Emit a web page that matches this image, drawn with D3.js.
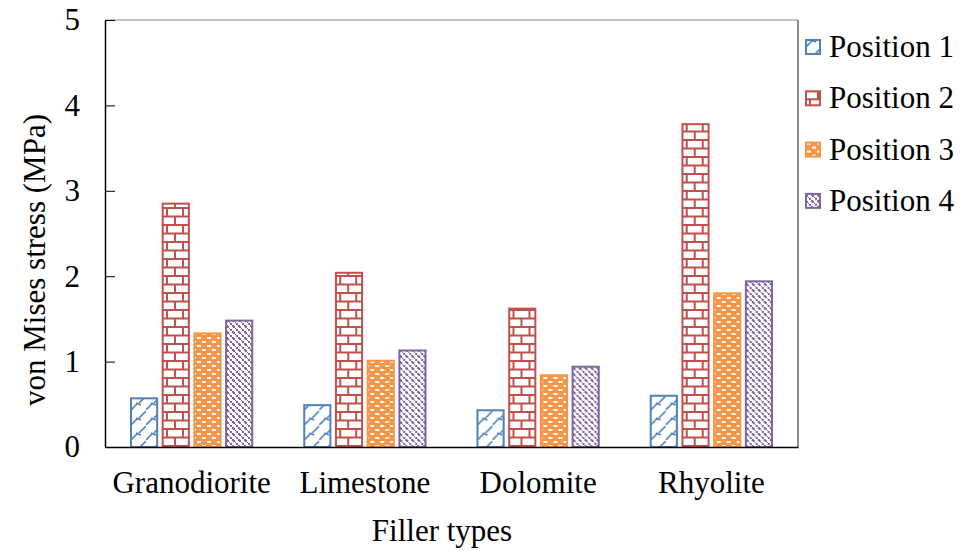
<!DOCTYPE html>
<html>
<head>
<meta charset="utf-8">
<script src="https://cdn.jsdelivr.net/npm/d3@7"></script>
<style>
  body { margin: 0; background: #fff; }
  svg text { font-family: 'Liberation Serif', 'Times New Roman', Times, 'DejaVu Serif', serif !important; }
</style>
</head>
<body>
<svg id="chart" width="962" height="551"></svg>
<script>
const categories = ['Granodiorite', 'Limestone', 'Dolomite', 'Rhyolite']
const series = ['Position 1', 'Position 2', 'Position 3', 'Position 4']
const position1 = [0.57, 0.49, 0.43, 0.60]
const position2 = [2.85, 2.04, 1.62, 3.78]
const position3 = [1.33, 1.01, 0.84, 1.80]
const position4 = [1.48, 1.13, 0.94, 1.94]
const yTicks = [0, 1, 2, 3, 4, 5]

const colors = ['#4f81bd', '#c0504d', '#f79646', '#8064a2']
const values = [position1, position2, position3, position4]

const margin = { top: 20, right: 164, bottom: 104, left: 105 }
const width = 962
const height = 551
const innerW = width - margin.left - margin.right
const innerH = height - margin.top - margin.bottom

const svg = d3.select('#chart')
const defs = svg.append('defs')

// hatch patterns, one per series
const p1 = defs.append('pattern').attr('id', 'pat0')
	.attr('patternUnits', 'userSpaceOnUse').attr('width', 15).attr('height', 15)
p1.append('rect').attr('width', 15).attr('height', 15).attr('fill', '#fff')
p1.append('path').attr('d', 'M0,15 L6,9 M8,8 L15,1 M5,8 L10,10')
	.attr('stroke', colors[0]).attr('stroke-width', 1.6).attr('fill', 'none')

const p2 = defs.append('pattern').attr('id', 'pat1')
	.attr('patternUnits', 'userSpaceOnUse').attr('width', 16).attr('height', 17)
p2.append('rect').attr('width', 16).attr('height', 17).attr('fill', '#fff')
p2.append('path').attr('d', 'M0,1 H16 M0,9.5 H16 M4,1 V9.5 M12,9.5 V17')
	.attr('stroke', colors[1]).attr('stroke-width', 2).attr('fill', 'none')

const p3 = defs.append('pattern').attr('id', 'pat2')
	.attr('patternUnits', 'userSpaceOnUse').attr('width', 10).attr('height', 8)
p3.append('rect').attr('width', 10).attr('height', 8).attr('fill', colors[2])
p3.append('rect').attr('x', 1).attr('y', 1).attr('width', 4).attr('height', 2).attr('fill', '#fff')
p3.append('rect').attr('x', 6).attr('y', 5).attr('width', 4).attr('height', 2).attr('fill', '#fff')

const p4 = defs.append('pattern').attr('id', 'pat3')
	.attr('patternUnits', 'userSpaceOnUse').attr('width', 6).attr('height', 6)
p4.append('rect').attr('width', 6).attr('height', 6).attr('fill', '#fff')
p4.append('path').attr('d', 'M0,0 h2 v2 h-2 Z M3,3 h2 v2 h-2 Z M2,2 h1 v1 h-1 Z M5,5 h1 v1 h-1 Z M5,0 h1 v1 h-1 Z M0,5 h1 v1 h-1 Z')
	.attr('fill', colors[3])

const g = svg.append('g').attr('transform', `translate(${margin.left},${margin.top})`)

const x0 = d3.scaleBand().domain(categories).range([0, innerW])
	.paddingInner(0.3).paddingOuter(0.15)
const x1 = d3.scaleBand().domain(series).range([0, x0.bandwidth()])
	.paddingInner(0.175)
const y = d3.scaleLinear().domain([0, 5]).range([innerH, 0])

// frame: top and right in grey
g.append('line').attr('x1', 0).attr('x2', innerW).attr('y1', 0).attr('y2', 0)
	.attr('stroke', '#8c8c8c').attr('stroke-width', 1)
g.append('line').attr('x1', innerW).attr('x2', innerW).attr('y1', 0).attr('y2', innerH)
	.attr('stroke', '#8c8c8c').attr('stroke-width', 2)

// bars
const rows = categories.map((c, i) => ({ cat: c, vals: series.map((s, j) => ({ s, j, v: values[j][i] })) }))
const groups = g.selectAll('g.grp').data(rows).join('g')
	.attr('class', 'grp')
	.attr('transform', d => `translate(${x0(d.cat)},0)`)
groups.selectAll('rect').data(d => d.vals).join('rect')
	.attr('x', d => x1(d.s))
	.attr('y', d => y(d.v))
	.attr('width', x1.bandwidth())
	.attr('height', d => innerH - y(d.v))
	.attr('fill', d => `url(#pat${d.j})`)
	.attr('stroke', d => colors[d.j])
	.attr('stroke-width', 2)

// y axis
const yAxis = g.append('g')
	.call(d3.axisLeft(y).tickValues(yTicks).tickFormat(d3.format('d'))
		.tickSizeInner(-10).tickSizeOuter(0).tickPadding(25))
yAxis.attr('font-family', null)
yAxis.select('.domain').attr('stroke', '#000').attr('stroke-width', 1.5)
yAxis.selectAll('.tick line').attr('stroke', '#000')
yAxis.selectAll('text').attr('font-size', 31).attr('fill', '#000')

// x axis
const xAxis = g.append('g').attr('transform', `translate(0,${innerH})`)
	.call(d3.axisBottom(x0).tickSize(0).tickPadding(24))
xAxis.attr('font-family', null)
xAxis.select('.domain').attr('stroke', '#000').attr('stroke-width', 1.5)
xAxis.selectAll('text').attr('font-size', 31).attr('fill', '#000')

// axis titles
svg.append('text').attr('x', 442).attr('y', 541)
	.attr('text-anchor', 'middle').attr('font-size', 31).text('Filler types')
svg.append('text')
	.attr('transform', 'translate(45,260) rotate(-90)')
	.attr('text-anchor', 'middle').attr('font-size', 31).text('von Mises stress (MPa)')

// legend
const legend = svg.append('g').attr('transform', 'translate(806,47)')
const items = legend.selectAll('g').data(series).join('g')
	.attr('transform', (d, i) => `translate(0,${i * 51.3})`)
items.append('rect').attr('x', 0).attr('y', -7).attr('width', 14).attr('height', 14)
	.attr('fill', (d, i) => `url(#pat${i})`)
	.attr('stroke', (d, i) => colors[i]).attr('stroke-width', 2)
items.append('text').attr('x', 23).attr('y', 10).attr('font-size', 31).text(d => d)
</script>
</body>
</html>
